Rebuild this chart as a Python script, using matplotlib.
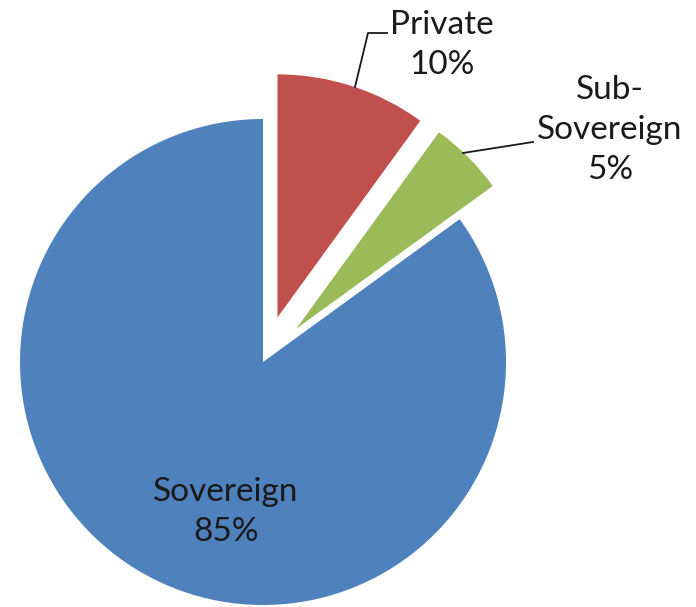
import matplotlib
matplotlib.use('Agg')
import matplotlib.pyplot as plt

labels = ['Private', 'Sub-\nSovereign', 'Sovereign']
shares = [10, 5, 85]
colors = ['#C0504D', '#9BBB59', '#4F81BD']
explode_frac = [0.193, 0.193, 0]

plt.rcParams['font.family'] = ['Lato', 'DejaVu Sans']

fig = plt.figure(figsize=(6.96, 6.07), dpi=100)
ax = fig.add_axes([0, 0, 1, 1])

# pixel-like coordinates, y pointing up
cx, cy, r = 263, 607 - 362, 243
ax.pie(shares, colors=colors, explode=[e * r for e in explode_frac],
       startangle=90, counterclock=False, radius=r, center=(cx, cy),
       wedgeprops=dict(linewidth=0))

ax.set_xlim(0, 696)
ax.set_ylim(0, 607)
ax.set_aspect('equal')
ax.axis('off')

fs = 24
ax.text(442, 607 - 45, f'{labels[0]}\n{shares[0]}%', ha='center', va='center',
        fontsize=fs, color='#1a1a1a', linespacing=1.4)
ax.text(610, 607 - 130, f'{labels[1]}\n{shares[1]}%', ha='center', va='center',
        fontsize=fs, color='#1a1a1a', linespacing=1.4)
ax.text(226, 607 - 512, f'{labels[2]}\n{shares[2]}%', ha='center', va='center',
        fontsize=fs, color='#1a1a1a', linespacing=1.4)

# leader lines
ax.plot([355, 368, 387], [607 - 87, 607 - 33, 607 - 33], color='#1a1a1a', lw=1.3)
ax.plot([463, 533], [607 - 153, 607 - 142], color='#1a1a1a', lw=1.3)

fig.savefig('out.png', dpi=100)
